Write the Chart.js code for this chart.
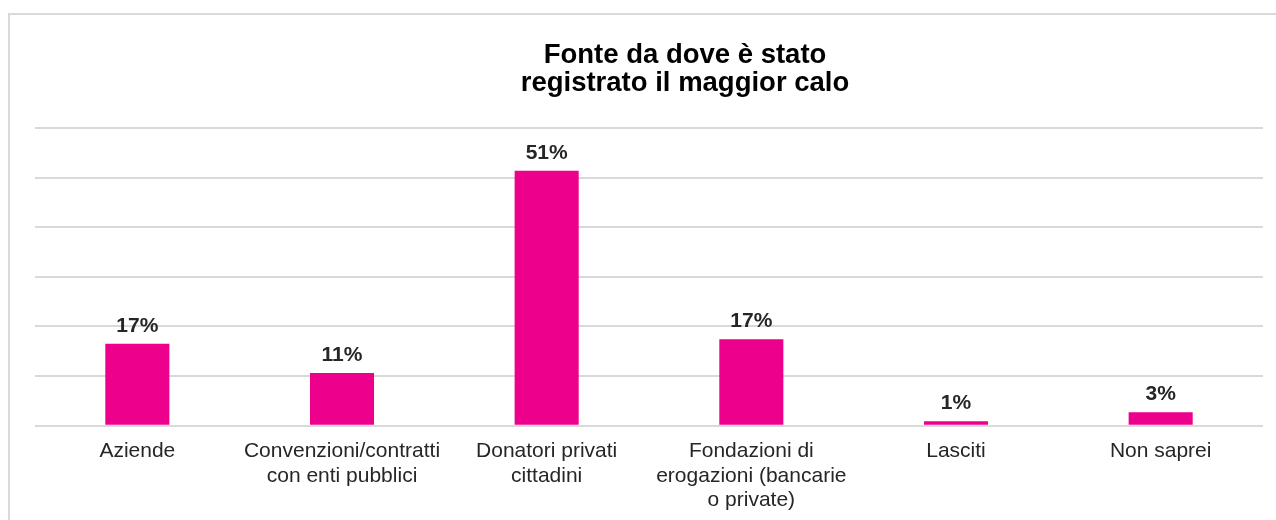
<!DOCTYPE html>
<html>
<head>
<meta charset="utf-8">
<script src="https://cdn.jsdelivr.net/npm/chart.js@4"></script>
<style>
    html, body { margin: 0; padding: 0; background: #fff; overflow: hidden; }
    body { width: 1276px; height: 520px; position: relative; }
    .frame {
        position: absolute; left: 8px; top: 13px; right: -10px; bottom: -10px;
        border-left: 2px solid #d9d9d9; border-top: 2px solid #d9d9d9;
    }
    /* canvas is wider/taller than the window so the title and axis sit where they do in the source */
    .wrap { position: absolute; left: 0; top: 0; width: 1370px; height: 534px; }
</style>
</head>
<body>
<div class="frame"></div>
<div class="wrap"><canvas id="chart-calo"></canvas></div>
<script>
// Fonte da dove è stato registrato il maggior calo
const TITLE = ['Fonte da dove è stato', 'registrato il maggior calo'];
const CATEGORIES = [
    'Aziende',
    ['Convenzioni/contratti', 'con enti pubblici'],
    ['Donatori privati', 'cittadini'],
    ['Fondazioni di', 'erogazioni (bancarie', 'o private)'],
    'Lasciti',
    'Non saprei',
];
const VALUES = [16.5, 10.6, 51.4, 17.4, 0.9, 2.7];
const Y_TICKS = [0, 10, 20, 30, 40, 50, 60];

const BAR_COLOR = '#EC008C';
const GRID_COLOR = '#d9d9d9';
const FONT = '"Liberation Sans", Arial, sans-serif';

// value labels above each bar (no datalabels plugin available offline)
const valueLabels = {
    id: 'valueLabels',
    afterDatasetsDraw(chart) {
        const ctx = chart.ctx;
        const meta = chart.getDatasetMeta(0);
        ctx.save();
        ctx.font = `bold 21px ${FONT}`;
        ctx.fillStyle = '#262626';
        ctx.textAlign = 'center';
        ctx.textBaseline = 'alphabetic';
        meta.data.forEach((bar, i) => {
            ctx.fillText(Math.round(VALUES[i]) + '%', bar.x, bar.y - 12);
        });
        ctx.restore();
    },
};

new Chart(document.getElementById('chart-calo'), {
    type: 'bar',
    data: {
        labels: CATEGORIES,
        datasets: [{
            data: VALUES,
            backgroundColor: BAR_COLOR,
            borderWidth: 0,
            barPercentage: 0.313,
            categoryPercentage: 1,
        }],
    },
    options: {
        responsive: true,
        maintainAspectRatio: false,
        animation: false,
        layout: { padding: { left: 0, right: 0, top: 0, bottom: 8 } },
        plugins: {
            legend: { display: false },
            tooltip: { enabled: false },
            title: {
                display: true,
                text: TITLE,
                color: '#000',
                font: { family: FONT, size: 27.5, weight: 'bold', lineHeight: 1.0 },
                padding: { top: 42, bottom: 31 },
            },
        },
        scales: {
            x: {
                grid: { display: false, drawTicks: false },
                border: { display: false },
                ticks: {
                    color: '#262626',
                    font: { family: FONT, size: 21, lineHeight: 1.18 },
                    padding: 13,
                    maxRotation: 0,
                    autoSkip: false,
                },
            },
            y: {
                min: Y_TICKS[0],
                max: Y_TICKS[Y_TICKS.length - 1],
                afterBuildTicks: axis => { axis.ticks = Y_TICKS.map(v => ({ value: v })); },
                afterFit: axis => { axis.width = 35; },
                grid: { color: GRID_COLOR, lineWidth: 2, drawTicks: false },
                border: { display: false },
                ticks: { display: false },
            },
            // empty right margin
            yRight: {
                type: 'linear',
                position: 'right',
                afterFit: axis => { axis.width = 107; },
                grid: { display: false, drawTicks: false },
                border: { display: false },
                ticks: { display: false },
            },
        },
    },
    plugins: [valueLabels],
});
</script>
</body>
</html>
